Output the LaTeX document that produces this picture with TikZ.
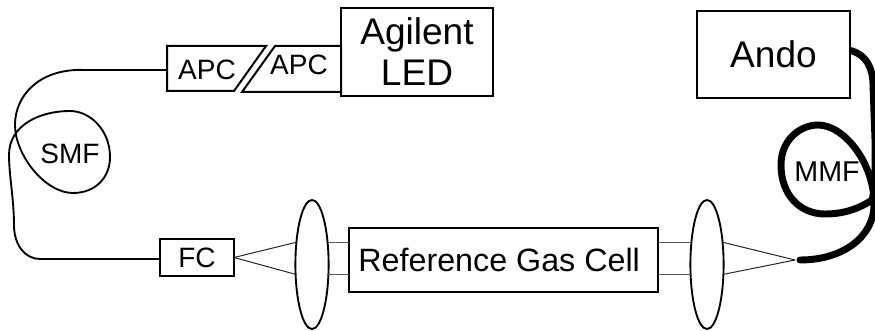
\documentclass[tikz,border=0pt]{standalone}
\usepackage{fontspec}
\setmainfont{Liberation Sans}
\usetikzlibrary{shapes.geometric}
\pgfdeclarelayer{back}
\pgfsetlayers{back,main}
\tikzset{
  x=0.75pt,y=-0.75pt,
  box/.style={draw=black,line width=1.5pt,rectangle,inner sep=0pt,outer sep=0pt,align=center},
  conn/.style={draw=black,line width=1.5pt,line join=miter},
  lens/.style={draw=black,line width=1.4pt,ellipse,inner sep=0pt,outer sep=0pt,minimum width=24.9pt,minimum height=96.8pt},
  lbl/.style={inner sep=0pt,outer sep=0pt},
  smf/.style={draw=black,line width=1.4pt},
  mmf/.style={draw=black,line width=5.2pt,line cap=round,line join=round},
  ray/.style={draw=black!85,line width=0.75pt},
  beam/.style={draw=black!65,line width=0.8pt},
  bigf/.style={font=\fontsize{27.8}{31}\selectfont},
  midf/.style={font=\fontsize{21}{25}\selectfont}
}
\begin{document}
\begin{tikzpicture}
\useasboundingbox (0,0) rectangle (875,331);
\draw[conn] (167,46) -- (266,46) -- (234,91) -- (167,91) -- cycle;
\draw[conn] (275,46) -- (341,46) -- (341,92) -- (242,92) -- cycle;
\node[lbl,midf] (apcA) at (207,70) {APC};
\node[lbl,midf] (apcB) at (299,65) {APC};
\coordinate (apcport) at (167,70);
\node[box,bigf,minimum width=114pt,minimum height=66pt] (agilent) at (417,52) {\raisebox{1pt}{Agilent}\\\raisebox{1pt}{LED}};
\node[box,bigf,fill=white,minimum width=114.75pt,minimum height=65.25pt] (ando) at (773.5,54.5) {Ando};
\node[box,midf,minimum width=55.5pt,minimum height=27.75pt] (fc) at (197,257.5) {FC};
\node[box,font=\fontsize{24.2}{28}\selectfont,minimum width=231.75pt,minimum height=48pt] (cell) at (503.5,260) {\hspace*{-6.5pt}Reference Gas Cell};
\node[lens] (lensA) at (312,264.5) {};
\node[lens] (lensB) at (707,264.5) {};
\node[lbl,midf] (smflabel) at (70,154) {SMF};
\node[lbl,font=\fontsize{21.5}{25}\selectfont] (mmflabel) at (827,172) {MMF};
\coordinate (focus) at (795,260);
\coordinate (mmfend) at (800,260);
\draw[ray] (fc.east) -- (lensA.125);
\draw[ray] (fc.east) -- (lensA.211.5);
\draw[beam] (lensA.55) -- (lensA.55 -| cell.west);
\draw[beam] (lensA.-31.5) -- (lensA.-31.5 -| cell.west);
\draw[beam] (lensB.125 -| cell.east) -- (lensB.125);
\draw[beam] (lensB.211.5 -| cell.east) -- (lensB.211.5);
\draw[ray] (lensB.55) -- (focus);
\draw[ray] (lensB.-31.5) -- (focus);
\draw[smf] (apcport) -- (85,70) .. controls (40,68) and (15,95) .. (15,125)
  .. controls (15,155) and (45,193) .. (73,193)
  .. controls (95,193) and (110,178) .. (110,157)
  .. controls (110,130) and (90,111) .. (70,111)
  .. controls (40,111) and (9,125) .. (9,155)
  .. controls (9,175) and (14,200) .. (14,225)
  .. controls (14,245) and (25,259) .. (40,259) -- (fc.west |- 0,259);
\begin{pgfonlayer}{back}
\draw[mmf] (ando.3.4) .. controls (866,54) and (873,68) .. (873,85) -- (875,140)
  .. controls (875,160) and (876,185) .. (872,200)
  .. controls (860,208) and (845,214) .. (825,214)
  .. controls (800,214) and (781,195) .. (781,165)
  .. controls (781,140) and (800,125) .. (818,125)
  .. controls (845,125) and (875,165) .. (874,205)
  .. controls (874,235) and (845,260) .. (mmfend);
\end{pgfonlayer}
\end{tikzpicture}
\end{document}
